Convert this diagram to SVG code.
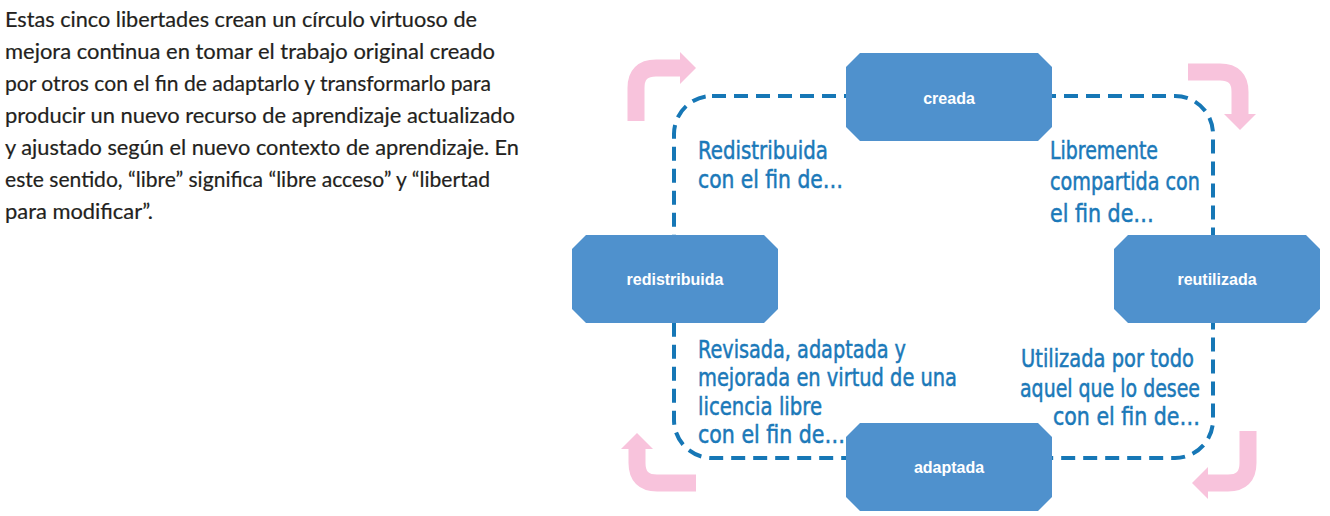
<svg xmlns="http://www.w3.org/2000/svg" xmlns:xlink="http://www.w3.org/1999/xlink" width="1330" height="516" viewBox="0 0 1330 516">
<style>
.para{font-family:Lato,"Liberation Sans",sans-serif;font-size:21px;fill:#231f20;stroke:#231f20;stroke-width:0.2}
.lbl{font-family:"DejaVu Sans Condensed","Liberation Sans Narrow","Liberation Sans",sans-serif;font-stretch:condensed;font-size:25px;fill:#1b79b9;stroke:#1b79b9;stroke-width:0.5}
.node{fill:#4f91cd}
.ntxt{font-family:"Liberation Sans",Arial,sans-serif;font-size:16px;font-weight:bold;fill:#ffffff;text-anchor:middle}
.loop{fill:none;stroke:#1677b6;stroke-width:4;stroke-dasharray:14 8}
.pk{fill:none;stroke:#f8c3dc;stroke-width:17}
.pkh{fill:#f8c3dc}
</style>
<defs>
<polygon id="oct" points="14,0 192,0 206,14 206,74 192,88 14,88 0,74 0,14"/>
</defs>
<rect width="1330" height="516" fill="#ffffff"/>
<g id="paragraph">
<text class="para" x="5" y="27" textLength="472" lengthAdjust="spacingAndGlyphs">Estas cinco libertades crean un círculo virtuoso de</text>
<text class="para" x="5" y="59" textLength="490" lengthAdjust="spacingAndGlyphs">mejora continua en tomar el trabajo original creado</text>
<text class="para" x="5" y="91" textLength="486" lengthAdjust="spacingAndGlyphs">por otros con el fin de adaptarlo y transformarlo para</text>
<text class="para" x="5" y="123" textLength="510" lengthAdjust="spacingAndGlyphs">producir un nuevo recurso de aprendizaje actualizado</text>
<text class="para" x="5" y="155" textLength="514" lengthAdjust="spacingAndGlyphs">y ajustado según el nuevo contexto de aprendizaje. En</text>
<text class="para" x="5" y="187" textLength="485" lengthAdjust="spacingAndGlyphs">este sentido, “libre” significa “libre acceso” y “libertad</text>
<text class="para" x="5" y="219" textLength="148" lengthAdjust="spacingAndGlyphs">para modificar”.</text>
</g>
<g id="connectors">
<rect class="loop" x="674" y="96" width="539" height="362" rx="38" ry="38"/>
<path class="pk" d="M636,121 V88 Q636,68 656,68 H681"/>
<polygon class="pkh" points="680,52 696,68 680,84"/>
<path class="pk" d="M1188,72 H1220 Q1240,72 1240,92 V115"/>
<polygon class="pkh" points="1224,114 1256,114 1240,130"/>
<path class="pk" d="M696,483 H657 Q637,483 637,463 V448"/>
<polygon class="pkh" points="621,449 653,449 637,433"/>
<path class="pk" d="M1248,431 V463 Q1248,483 1228,483 H1207"/>
<polygon class="pkh" points="1208,467 1208,499 1192,483"/>
</g>
<g id="labels">
<text class="lbl" x="698" y="159" textLength="130" lengthAdjust="spacingAndGlyphs">Redistribuida</text>
<text class="lbl" x="698" y="188" textLength="145" lengthAdjust="spacingAndGlyphs">con el fin de…</text>
<text class="lbl" x="1050" y="159" textLength="108" lengthAdjust="spacingAndGlyphs">Libremente</text>
<text class="lbl" x="1050" y="190" textLength="150" lengthAdjust="spacingAndGlyphs">compartida con</text>
<text class="lbl" x="1050" y="222" textLength="104" lengthAdjust="spacingAndGlyphs">el fin de…</text>
<text class="lbl" x="698" y="358" textLength="208" lengthAdjust="spacingAndGlyphs">Revisada, adaptada y</text>
<text class="lbl" x="698" y="386" textLength="259" lengthAdjust="spacingAndGlyphs">mejorada en virtud de una</text>
<text class="lbl" x="698" y="415" textLength="124" lengthAdjust="spacingAndGlyphs">licencia libre</text>
<text class="lbl" x="698" y="443" textLength="147" lengthAdjust="spacingAndGlyphs">con el fin de…</text>
<text class="lbl" x="1021" y="367" textLength="173" lengthAdjust="spacingAndGlyphs">Utilizada por todo</text>
<text class="lbl" x="1020" y="397" textLength="180" lengthAdjust="spacingAndGlyphs">aquel que lo desee</text>
<text class="lbl" x="1053" y="425" textLength="147" lengthAdjust="spacingAndGlyphs">con el fin de…</text>
</g>
<g id="node-creada">
<use xlink:href="#oct" href="#oct" class="node" x="846" y="53"/>
<text class="ntxt" x="949" y="104">creada</text>
</g>
<g id="node-redistribuida">
<use xlink:href="#oct" href="#oct" class="node" x="572" y="235"/>
<text class="ntxt" x="675" y="285">redistribuida</text>
</g>
<g id="node-reutilizada">
<use xlink:href="#oct" href="#oct" class="node" x="1114" y="235"/>
<text class="ntxt" x="1217" y="285">reutilizada</text>
</g>
<g id="node-adaptada">
<use xlink:href="#oct" href="#oct" class="node" x="846" y="423"/>
<text class="ntxt" x="949" y="473">adaptada</text>
</g>
</svg>
